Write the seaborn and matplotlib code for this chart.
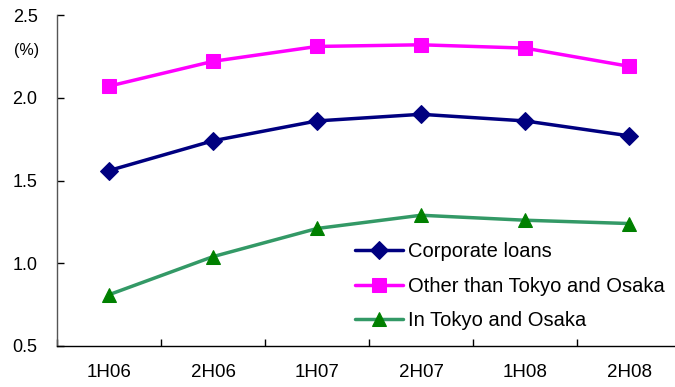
import matplotlib
matplotlib.use("Agg")
import matplotlib.pyplot as plt
import seaborn as sns
import pandas as pd
import numpy as np

periods = ["1H06", "2H06", "1H07", "2H07", "1H08", "2H08"]
corporate = [1.56, 1.74, 1.86, 1.90, 1.86, 1.77]
other = [2.07, 2.22, 2.31, 2.32, 2.30, 2.19]
tokyo_osaka = [0.81, 1.04, 1.21, 1.29, 1.26, 1.24]
series_names = ["Corporate loans", "Other than Tokyo and Osaka", "In Tokyo and Osaka"]
yticks = [0.5, 1.0, 1.5, 2.0, 2.5]

sns.set_theme(style="white")
plt.rcParams['font.family'] = ['Liberation Sans', 'DejaVu Sans']

fig = plt.figure(figsize=(6.75, 3.87), dpi=100)
ax = fig.add_axes([57/675, 41/387, 624/675, 331/387])

x = np.arange(len(periods))
styles = [
    (corporate, "#000080", "D", "#000080", 9),
    (other, "#FF00FF", "s", "#FF00FF", 10.5),
    (tokyo_osaka, "#339966", "^", "#008000", 10),
]
for (vals, lc, mk, mc, ms), name in zip(styles, series_names):
    df = pd.DataFrame({"x": x, "y": vals})
    sns.lineplot(data=df, x="x", y="y", ax=ax, color=lc, linewidth=2.5,
                 marker=mk, markersize=ms, markerfacecolor=mc, markeredgecolor=mc,
                 label=name)

ax.set_xlim(-0.5, 5.5)
ax.set_ylim(0.5, 2.5)
ax.set_yticks(yticks)
ax.set_yticklabels([f"{v:.1f}" for v in yticks], fontsize=13, color="black")
ax.set_xticks(x)
ax.set_xticklabels(periods, fontsize=13.5, color="black")
ax.set_xticks(np.arange(-0.5, 6.0, 1.0), minor=True)
ax.tick_params(axis="x", which="major", bottom=True, length=0, pad=13)
ax.tick_params(axis="x", which="minor", bottom=True, length=5, direction="in", width=1, color="black")
ax.tick_params(axis="y", which="major", left=True, length=5, direction="in", width=1, color="black", pad=14)
ax.set_xlabel("")
ax.set_ylabel("")
for s in ["top", "right"]:
    ax.spines[s].set_visible(False)
ax.spines["left"].set_color("#555555")
ax.spines["bottom"].set_color("black")
ax.spines["left"].set_linewidth(1)
ax.spines["bottom"].set_linewidth(1)

fig.text(14/675, 1 - 50/387, "(%)", fontsize=11.5, va="center", ha="left", color="black")

leg = ax.legend(loc="upper left", bbox_to_anchor=(298/624, (346-242)/331), frameon=False,
                fontsize=14.5, handlelength=2.4, handletextpad=0.25, labelspacing=0.78,
                borderaxespad=0, borderpad=0)
for t in leg.get_texts():
    t.set_color("black")

fig.savefig("out.png", dpi=100)
